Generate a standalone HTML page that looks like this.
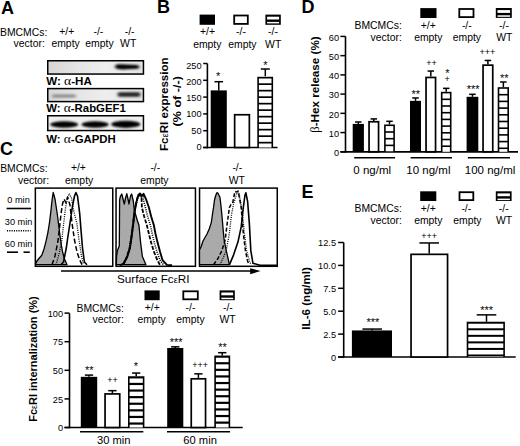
<!DOCTYPE html>
<html><head><meta charset="utf-8"><style>
html,body{margin:0;padding:0;background:#fff;}
svg{display:block;font-family:"Liberation Sans", sans-serif;}
</style></head><body>
<svg width="520" height="446" viewBox="0 0 520 446" font-family='"Liberation Sans", sans-serif' fill="#000">
<rect x="0" y="0" width="520" height="446" fill="#fff"/>
<text x="1" y="13.9" font-size="18" text-anchor="start" font-weight="bold">A</text>
<text x="0" y="35.8" font-size="10.4" text-anchor="start">BMCMCs:</text>
<text x="13.6" y="47" font-size="10.4" text-anchor="start">vector:</text>
<text x="66.8" y="35.4" font-size="10.4" text-anchor="middle">+/+</text>
<text x="98.4" y="35.4" font-size="10.4" text-anchor="middle">-/-</text>
<text x="129.6" y="35.4" font-size="10.4" text-anchor="middle">-/-</text>
<text x="65.6" y="47" font-size="10.4" text-anchor="middle">empty</text>
<text x="99.5" y="47" font-size="10.4" text-anchor="middle">empty</text>
<text x="128.2" y="47" font-size="10.4" text-anchor="middle">WT</text>
<defs>
<linearGradient id="g1" x1="0" x2="1" y1="0" y2="0">
 <stop offset="0" stop-color="#d6d6d6"/><stop offset="0.35" stop-color="#e6e6e6"/><stop offset="0.6" stop-color="#eeeeee"/><stop offset="1" stop-color="#e2e2e2"/>
</linearGradient>
<filter id="bl" x="-30%" y="-80%" width="160%" height="260%"><feGaussianBlur stdDeviation="1.4 1.0"/></filter>
<filter id="bl2" x="-30%" y="-80%" width="160%" height="260%"><feGaussianBlur stdDeviation="1.0 0.8"/></filter>
</defs>
<rect x="47.75" y="60.75" width="95.7" height="13.3" fill="url(#g1)" stroke="#000" stroke-width="1.5"/>
<path d="M115,66.6 C115,63.6 120,64.2 126,64.6 L137,65 C140,65.2 140,68.6 137,68.8 L126,69.2 C120,69.6 115,69.6 115,66.6 Z" fill="#000" filter="url(#bl)"/>
<text x="46.3" y="85" font-size="11" text-anchor="start" font-weight="bold" textLength="45.5" lengthAdjust="spacingAndGlyphs">W: <tspan font-family="Liberation Serif" font-weight="normal" font-size="13">&#945;</tspan>-HA</text>
<rect x="47.75" y="88.6" width="95.7" height="13" fill="url(#g1)" stroke="#000" stroke-width="1.5"/>
<rect x="52" y="94.6" width="24" height="3" rx="1.5" fill="#888" filter="url(#bl)"/>
<rect x="117.5" y="92.2" width="23" height="4.6" rx="2.3" fill="#222" filter="url(#bl)"/>
<text x="46.3" y="112" font-size="11" text-anchor="start" font-weight="bold" textLength="79.5" lengthAdjust="spacingAndGlyphs">W: <tspan font-family="Liberation Serif" font-weight="normal" font-size="13">&#945;</tspan>-RabGEF1</text>
<rect x="47.75" y="115.75" width="95.7" height="14.8" fill="#f0f0f0" stroke="#000" stroke-width="1.5"/>
<ellipse cx="64.2" cy="124.5" rx="14" ry="3.3" fill="#000" filter="url(#bl2)"/>
<ellipse cx="95.1" cy="124.5" rx="13.6" ry="3.3" fill="#000" filter="url(#bl2)"/>
<ellipse cx="125.8" cy="124.3" rx="14.6" ry="3.6" fill="#000" filter="url(#bl2)"/>
<text x="46.3" y="142.8" font-size="11" text-anchor="start" font-weight="bold" textLength="69.5" lengthAdjust="spacingAndGlyphs">W: <tspan font-family="Liberation Serif" font-weight="normal" font-size="13">&#945;</tspan>-GAPDH</text>
<text x="157" y="13.3" font-size="18" text-anchor="start" font-weight="bold">B</text>
<rect x="199.60" y="14.60" width="15.40" height="10.20" fill="#000"/>
<rect x="233.30" y="14.60" width="15.40" height="10.20" fill="#000"/>
<rect x="235.10" y="16.40" width="11.80" height="6.60" fill="#fff"/>
<rect x="265.40" y="14.60" width="15.40" height="10.20" fill="#000"/>
<rect x="267.10" y="16.70" width="12.00" height="2.80" fill="#fff"/>
<rect x="267.10" y="21.90" width="12.00" height="1.50" fill="#fff"/>
<text x="207.5" y="35.3" font-size="10.4" text-anchor="middle">+/+</text>
<text x="241.0" y="35.3" font-size="10.4" text-anchor="middle">-/-</text>
<text x="273.0" y="35.3" font-size="10.4" text-anchor="middle">-/-</text>
<text x="207.3" y="48" font-size="10.4" text-anchor="middle">empty</text>
<text x="242.4" y="48" font-size="10.4" text-anchor="middle">empty</text>
<text x="273.2" y="48" font-size="10.4" text-anchor="middle">WT</text>
<line x1="207.4" y1="63.5" x2="207.4" y2="148.3" stroke="#000" stroke-width="1.6"/>
<line x1="203.2" y1="147.5" x2="277.5" y2="147.5" stroke="#000" stroke-width="1.7"/>
<line x1="203.2" y1="63.5" x2="207.4" y2="63.5" stroke="#000" stroke-width="1.5"/>
<text x="201.5" y="68.89999999999999" font-size="9.2" text-anchor="end">250</text>
<line x1="203.2" y1="80.3" x2="207.4" y2="80.3" stroke="#000" stroke-width="1.5"/>
<text x="201.5" y="84.7" font-size="9.2" text-anchor="end">200</text>
<line x1="203.2" y1="97.1" x2="207.4" y2="97.1" stroke="#000" stroke-width="1.5"/>
<text x="201.5" y="101.3" font-size="9.2" text-anchor="end">150</text>
<line x1="203.2" y1="113.9" x2="207.4" y2="113.9" stroke="#000" stroke-width="1.5"/>
<text x="201.5" y="117.2" font-size="9.2" text-anchor="end">100</text>
<line x1="203.2" y1="130.7" x2="207.4" y2="130.7" stroke="#000" stroke-width="1.5"/>
<text x="201.5" y="133.60000000000002" font-size="9.2" text-anchor="end">50</text>
<line x1="203.2" y1="147.5" x2="207.4" y2="147.5" stroke="#000" stroke-width="1.5"/>
<text x="201.5" y="149.70000000000002" font-size="9.2" text-anchor="end">0</text>
<rect x="210.70" y="90.38" width="16.10" height="57.12" fill="#000"/>
<line x1="218.75" y1="81.7" x2="218.75" y2="90.38" stroke="#000" stroke-width="1.5"/>
<line x1="214.45" y1="81.7" x2="223.05" y2="81.7" stroke="#000" stroke-width="1.5"/>
<text x="218.2" y="80.1" font-size="11" text-anchor="middle">*</text>
<rect x="234.65" y="114.75" width="14.70" height="32.75" fill="#fff" stroke="#000" stroke-width="1.7"/>
<rect x="257.30" y="76.80" width="15.80" height="70.70" fill="#000"/>
<rect x="258.90" y="78.50" width="12.60" height="4.80" fill="#fff"/>
<rect x="258.90" y="85.00" width="12.60" height="4.80" fill="#fff"/>
<rect x="258.90" y="91.50" width="12.60" height="4.80" fill="#fff"/>
<rect x="258.90" y="98.00" width="12.60" height="4.80" fill="#fff"/>
<rect x="258.90" y="104.50" width="12.60" height="4.80" fill="#fff"/>
<rect x="258.90" y="111.00" width="12.60" height="4.80" fill="#fff"/>
<rect x="258.90" y="117.50" width="12.60" height="4.80" fill="#fff"/>
<rect x="258.90" y="124.00" width="12.60" height="4.80" fill="#fff"/>
<rect x="258.90" y="130.50" width="12.60" height="4.80" fill="#fff"/>
<rect x="258.90" y="137.00" width="12.60" height="4.80" fill="#fff"/>
<rect x="258.90" y="143.50" width="12.60" height="4.00" fill="#fff"/>
<line x1="265.3" y1="69" x2="265.3" y2="76.268" stroke="#000" stroke-width="1.5"/>
<line x1="260.8" y1="69" x2="269.8" y2="69" stroke="#000" stroke-width="1.5"/>
<text x="265.4" y="68.7" font-size="11" text-anchor="middle">*</text>
<text transform="translate(168,104.2) rotate(-90)" x="0" y="0" font-size="11" text-anchor="middle" font-weight="bold" textLength="93.6" lengthAdjust="spacingAndGlyphs">Fc<tspan font-size="9" font-weight="normal">&#949;</tspan>RI expression</text>
<text transform="translate(180.5,101.3) rotate(-90)" x="0" y="0" font-size="11" text-anchor="middle" font-weight="bold" textLength="50.2" lengthAdjust="spacingAndGlyphs">(% of -/-)</text>
<text x="301.5" y="12.7" font-size="18" text-anchor="start" font-weight="bold">D</text>
<rect x="420.30" y="8.10" width="16.20" height="9.90" fill="#000"/>
<rect x="458.40" y="8.10" width="16.00" height="9.90" fill="#000"/>
<rect x="460.20" y="9.90" width="12.40" height="6.30" fill="#fff"/>
<rect x="495.80" y="8.00" width="16.00" height="9.90" fill="#000"/>
<rect x="497.50" y="10.10" width="12.60" height="2.80" fill="#fff"/>
<rect x="497.50" y="15.30" width="12.60" height="1.50" fill="#fff"/>
<text x="401.8" y="28.9" font-size="10.4" text-anchor="end">BMCMCs:</text>
<text x="401.8" y="40.6" font-size="10.4" text-anchor="end">vector:</text>
<text x="428.3" y="28.8" font-size="10.4" text-anchor="middle">+/+</text>
<text x="466.8" y="28.8" font-size="10.4" text-anchor="middle">-/-</text>
<text x="504.0" y="28.8" font-size="10.4" text-anchor="middle">-/-</text>
<text x="428.3" y="40.6" font-size="10.4" text-anchor="middle">empty</text>
<text x="466.9" y="40.6" font-size="10.4" text-anchor="middle">empty</text>
<text x="504.3" y="40.6" font-size="10.4" text-anchor="middle">WT</text>
<line x1="345.5" y1="36.4" x2="345.5" y2="152.6" stroke="#000" stroke-width="1.6"/>
<line x1="340.4" y1="151.8" x2="518" y2="151.8" stroke="#000" stroke-width="1.7"/>
<line x1="340.4" y1="36.420000000000016" x2="345.5" y2="36.420000000000016" stroke="#000" stroke-width="1.5"/>
<text x="339" y="40.62000000000002" font-size="9.2" text-anchor="end">60</text>
<line x1="340.4" y1="55.650000000000006" x2="345.5" y2="55.650000000000006" stroke="#000" stroke-width="1.5"/>
<text x="339" y="59.85000000000001" font-size="9.2" text-anchor="end">50</text>
<line x1="340.4" y1="74.88000000000001" x2="345.5" y2="74.88000000000001" stroke="#000" stroke-width="1.5"/>
<text x="339" y="79.08000000000001" font-size="9.2" text-anchor="end">40</text>
<line x1="340.4" y1="94.11000000000001" x2="345.5" y2="94.11000000000001" stroke="#000" stroke-width="1.5"/>
<text x="339" y="98.31000000000002" font-size="9.2" text-anchor="end">30</text>
<line x1="340.4" y1="113.34" x2="345.5" y2="113.34" stroke="#000" stroke-width="1.5"/>
<text x="339" y="117.54" font-size="9.2" text-anchor="end">20</text>
<line x1="340.4" y1="132.57000000000002" x2="345.5" y2="132.57000000000002" stroke="#000" stroke-width="1.5"/>
<text x="339" y="136.77" font-size="9.2" text-anchor="end">10</text>
<line x1="340.4" y1="151.8" x2="345.5" y2="151.8" stroke="#000" stroke-width="1.5"/>
<text x="339" y="156.0" font-size="9.2" text-anchor="end">0</text>
<line x1="358.29999999999995" y1="121.99350000000001" x2="358.29999999999995" y2="123.91650000000001" stroke="#000" stroke-width="1.5"/>
<line x1="355.04999999999995" y1="121.99350000000001" x2="361.54999999999995" y2="121.99350000000001" stroke="#000" stroke-width="1.5"/>
<rect x="352.70" y="123.92" width="11.20" height="27.88" fill="#000"/>
<line x1="373.79999999999995" y1="118.9167" x2="373.79999999999995" y2="120.89739" stroke="#000" stroke-width="1.5"/>
<line x1="370.54999999999995" y1="118.9167" x2="377.04999999999995" y2="118.9167" stroke="#000" stroke-width="1.5"/>
<rect x="369.05" y="121.75" width="9.50" height="30.05" fill="#fff" stroke="#000" stroke-width="1.7"/>
<line x1="389.5" y1="121.30122000000001" x2="389.5" y2="124.49340000000001" stroke="#000" stroke-width="1.5"/>
<line x1="386.25" y1="121.30122000000001" x2="392.75" y2="121.30122000000001" stroke="#000" stroke-width="1.5"/>
<rect x="384.10" y="124.49" width="10.80" height="27.31" fill="#000"/>
<rect x="385.70" y="126.09" width="7.60" height="5.10" fill="#fff"/>
<rect x="385.70" y="132.79" width="7.60" height="5.10" fill="#fff"/>
<rect x="385.70" y="139.49" width="7.60" height="5.10" fill="#fff"/>
<rect x="385.70" y="146.19" width="7.60" height="5.10" fill="#fff"/>
<line x1="415.5" y1="97.95600000000002" x2="415.5" y2="100.84050000000002" stroke="#000" stroke-width="1.5"/>
<line x1="412.25" y1="97.95600000000002" x2="418.75" y2="97.95600000000002" stroke="#000" stroke-width="1.5"/>
<rect x="410.00" y="100.84" width="11.00" height="50.96" fill="#000"/>
<line x1="430.79999999999995" y1="71.034" x2="430.79999999999995" y2="76.61070000000001" stroke="#000" stroke-width="1.5"/>
<line x1="427.54999999999995" y1="71.034" x2="434.04999999999995" y2="71.034" stroke="#000" stroke-width="1.5"/>
<rect x="426.05" y="77.46" width="9.50" height="74.34" fill="#fff" stroke="#000" stroke-width="1.7"/>
<line x1="446.2" y1="88.34100000000001" x2="446.2" y2="91.8024" stroke="#000" stroke-width="1.5"/>
<line x1="442.95" y1="88.34100000000001" x2="449.45" y2="88.34100000000001" stroke="#000" stroke-width="1.5"/>
<rect x="440.90" y="91.80" width="10.60" height="60.00" fill="#000"/>
<rect x="442.50" y="93.40" width="7.40" height="5.10" fill="#fff"/>
<rect x="442.50" y="100.10" width="7.40" height="5.10" fill="#fff"/>
<rect x="442.50" y="106.80" width="7.40" height="5.10" fill="#fff"/>
<rect x="442.50" y="113.50" width="7.40" height="5.10" fill="#fff"/>
<rect x="442.50" y="120.20" width="7.40" height="5.10" fill="#fff"/>
<rect x="442.50" y="126.90" width="7.40" height="5.10" fill="#fff"/>
<rect x="442.50" y="133.60" width="7.40" height="5.10" fill="#fff"/>
<rect x="442.50" y="140.30" width="7.40" height="5.10" fill="#fff"/>
<rect x="442.50" y="147.00" width="7.40" height="4.80" fill="#fff"/>
<line x1="472.45000000000005" y1="94.3023" x2="472.45000000000005" y2="96.8022" stroke="#000" stroke-width="1.5"/>
<line x1="469.20000000000005" y1="94.3023" x2="475.70000000000005" y2="94.3023" stroke="#000" stroke-width="1.5"/>
<rect x="466.60" y="96.80" width="11.70" height="55.00" fill="#000"/>
<line x1="487.9" y1="60.45750000000001" x2="487.9" y2="64.30350000000001" stroke="#000" stroke-width="1.5"/>
<line x1="484.65" y1="60.45750000000001" x2="491.15" y2="60.45750000000001" stroke="#000" stroke-width="1.5"/>
<rect x="483.05" y="65.15" width="9.70" height="86.65" fill="#fff" stroke="#000" stroke-width="1.7"/>
<line x1="503.35" y1="81.99510000000002" x2="503.35" y2="87.1872" stroke="#000" stroke-width="1.5"/>
<line x1="500.1" y1="81.99510000000002" x2="506.6" y2="81.99510000000002" stroke="#000" stroke-width="1.5"/>
<rect x="497.70" y="87.19" width="11.30" height="64.61" fill="#000"/>
<rect x="499.30" y="88.79" width="8.10" height="5.10" fill="#fff"/>
<rect x="499.30" y="95.49" width="8.10" height="5.10" fill="#fff"/>
<rect x="499.30" y="102.19" width="8.10" height="5.10" fill="#fff"/>
<rect x="499.30" y="108.89" width="8.10" height="5.10" fill="#fff"/>
<rect x="499.30" y="115.59" width="8.10" height="5.10" fill="#fff"/>
<rect x="499.30" y="122.29" width="8.10" height="5.10" fill="#fff"/>
<rect x="499.30" y="128.99" width="8.10" height="5.10" fill="#fff"/>
<rect x="499.30" y="135.69" width="8.10" height="5.10" fill="#fff"/>
<rect x="499.30" y="142.39" width="8.10" height="5.10" fill="#fff"/>
<rect x="499.30" y="149.09" width="8.10" height="2.71" fill="#fff"/>
<text x="415.8" y="98.1" font-size="11" text-anchor="middle">**</text>
<text x="431.6" y="66" font-size="9" text-anchor="middle">++</text>
<text x="447.3" y="77.1" font-size="11" text-anchor="middle">*</text>
<text x="447.2" y="82" font-size="9" text-anchor="middle">+</text>
<text x="473.1" y="92.9" font-size="11" text-anchor="middle">***</text>
<text x="487.5" y="54.8" font-size="9" text-anchor="middle">+++</text>
<text x="504.3" y="82.2" font-size="11" text-anchor="middle">**</text>
<line x1="354.2" y1="157.7" x2="395.1" y2="157.7" stroke="#000" stroke-width="1.5"/>
<line x1="410.6" y1="157.7" x2="452" y2="157.7" stroke="#000" stroke-width="1.5"/>
<line x1="467.8" y1="157.7" x2="510" y2="157.7" stroke="#000" stroke-width="1.5"/>
<text x="372.2" y="173.7" font-size="11.5" text-anchor="middle">0 ng/ml</text>
<text x="428.4" y="173.7" font-size="11.5" text-anchor="middle">10 ng/ml</text>
<text x="490.1" y="173.7" font-size="11.5" text-anchor="middle">100 ng/ml</text>
<text transform="translate(319,84.6) rotate(-90)" x="0" y="0" font-size="11" text-anchor="middle" font-weight="bold" textLength="96.5" lengthAdjust="spacingAndGlyphs"><tspan font-family="Liberation Serif" font-weight="normal" font-size="12">&#946;</tspan>-Hex release (%)</text>
<text x="0" y="155.3" font-size="18" text-anchor="start" font-weight="bold">C</text>
<text x="0.2" y="171.5" font-size="10.4" text-anchor="start">BMCMCs:</text>
<text x="18" y="183.6" font-size="10.4" text-anchor="start">vector:</text>
<text x="78.4" y="171.3" font-size="10.4" text-anchor="middle">+/+</text>
<text x="79.1" y="183.6" font-size="10.4" text-anchor="middle">empty</text>
<text x="155.3" y="171.3" font-size="10.4" text-anchor="middle">-/-</text>
<text x="154.4" y="183.6" font-size="10.4" text-anchor="middle">empty</text>
<text x="237.3" y="171.3" font-size="10.4" text-anchor="middle">-/-</text>
<text x="236.9" y="183.6" font-size="10.4" text-anchor="middle">WT</text>
<rect x="35.35" y="188.1" width="77.4" height="78.2" fill="#fff" stroke="#000" stroke-width="1.5"/>
<rect x="116.05" y="188.1" width="79.39999999999999" height="78.2" fill="#fff" stroke="#000" stroke-width="1.5"/>
<rect x="199.55" y="188.1" width="77.69999999999999" height="78.2" fill="#fff" stroke="#000" stroke-width="1.5"/>
<path d="M35.5,264.7 L36.3,262 L38.5,259 L41.8,255.3 L44,249 L46,241.3 L48,232 L49.6,221.8 L51,210 L52.2,199 L53.2,192.5 L55,199 L57.2,213.5 L58.8,226 L60,235.8 L61.5,246 L62.7,252.5 L64.5,259 L67,264.7 Z" fill="#aaaaaa" stroke="#000" stroke-width="1.3" stroke-linejoin="round"/>
<path d="M52,264.7 L55,256 L57.8,242 L59.5,228 L61,214 L62.5,204 L64,199 L66,203 L67.5,197 L70,205 L72,223 L74.5,240 L77,252 L79.7,260 L82,264.7" fill="none" stroke="#000" stroke-width="1.5" stroke-linejoin="round" stroke-dasharray="5 2.5"/>
<path d="M56,264.7 L59,254 L61.6,242 L63.5,225 L65.5,208 L67.5,198 L69.2,193.6 L71.5,198 L73.5,210 L76.8,223 L79,240 L81.5,256 L83.5,264.7" fill="none" stroke="#000" stroke-width="1.3" stroke-linejoin="round" stroke-dasharray="1 1.2"/>
<path d="M61,264.7 L63.5,262 L66.3,248 L68,236 L70,223 L72.5,206 L74.5,196 L75.9,192.6 L77.5,196 L79.7,213.6 L81,230 L82.5,248 L84.4,262 L87,264.7" fill="none" stroke="#000" stroke-width="1.6" stroke-linejoin="round"/>
<path d="M116.3,264.7 L116.6,256 L117.6,250 L119.3,246 L119.5,220 L119.6,200 L120.5,196 L121.8,194 L123,199 L124.3,204 L125.5,198 L126.8,193.6 L128,199 L129,204 L130.5,196 L131.6,194 L133.3,201 L134.3,210 L136,216 L137.5,221 L138.9,225 L139.8,234 L140.6,242.6 L142.4,256.6 L145.9,264.7 Z" fill="#aaaaaa" stroke="#000" stroke-width="1.3" stroke-linejoin="round"/>
<path d="M123,264.7 L126.5,258 L129.5,249 L131.5,237 L133.2,223 L134.3,213 L136,204 L137.8,197 L139.5,194.5 L141.5,196.5 L141.9,207.5 L144.1,216.3 L146.8,225 L148.9,233.8 L151.1,242.6 L153.8,251.3 L157.3,260.1 L159.9,264.7" fill="none" stroke="#000" stroke-width="1.8" stroke-linejoin="round" stroke-dasharray="4 1.5"/>
<path d="M122.5,264.7 L126,258.5 L129,250 L131,238 L132.8,224 L134,214 L135.8,205 L137.5,198 L139.3,195 L141.3,197 L143,195 L143.5,200 L145.4,207.5 L147.6,216.3 L150.3,225 L152.2,233.8 L154.3,242.6 L156.8,251.3 L159.9,260.1 L163.4,264.7" fill="none" stroke="#000" stroke-width="1.6" stroke-linejoin="round" stroke-dasharray="1 1.2"/>
<path d="M120,265.3 L123.9,263.3 L127.5,256.2 L130.1,247.2 L131.9,234.6 L133.7,220.3 L134.6,211.3 L136.4,202.3 L138.2,195.2 L140,193.4 L141.8,196 L143.6,193.8 L145.9,198.8 L148.9,207.5 L151.1,216.3 L153.8,225 L155.5,233.8 L157.6,242.6 L159.9,251.3 L162.5,260.1 L166.9,264.9 L172,265.3" fill="none" stroke="#000" stroke-width="1.9" stroke-linejoin="round"/>
<path d="M199.5,264.7 L199.5,250 L201,247 L203,241 L205,237.5 L207,234 L209.2,229 L211.3,222.6 L212.5,214 L213.5,207.7 L214.5,200 L215.6,196 L216.7,193 L217.7,192.8 L218.8,195 L219.9,197 L221,206 L222,216.2 L223,228 L224.1,239.7 L226.2,250.4 L228,258 L229.4,264.7 Z" fill="#aaaaaa" stroke="#000" stroke-width="1.3" stroke-linejoin="round"/>
<path d="M213.5,264.7 L217.7,259 L222,250.4 L225.2,239.7 L227.3,222.6 L229.4,207.7 L231,204.5 L232.6,203.4 L234,196 L235,191.5 L236.5,192 L238,191 L239.5,198 L241.2,207.7 L243.3,233.3 L245.4,250.4 L247.6,261 L249,264.7" fill="none" stroke="#000" stroke-width="1.5" stroke-linejoin="round" stroke-dasharray="4 2"/>
<path d="M220,264.7 L223,258 L226.2,250.4 L229.4,233.3 L231.6,214 L233.7,203.4 L236.9,192.8 L239,192.8 L242.3,212 L244.4,233.3 L246.5,250.4 L249.7,262 L251.4,264.7" fill="none" stroke="#000" stroke-width="1.3" stroke-linejoin="round" stroke-dasharray="1 1.2"/>
<path d="M229.4,264.9 L233.7,254.6 L238,241.8 L241.2,226.9 L243.3,207.7 L245,195 L245.9,192.8 L247.6,201.3 L249.3,222.6 L250.8,250.4 L252.9,263.2 L260,265.3 L277,265.3" fill="none" stroke="#000" stroke-width="1.6" stroke-linejoin="round"/>
<text x="7.3" y="202.9" font-size="9.2" text-anchor="start">0 min</text>
<line x1="6.6" y1="208.5" x2="31.1" y2="208.5" stroke="#000" stroke-width="1.6"/>
<text x="4.8" y="225.3" font-size="9.2" text-anchor="start">30 min</text>
<line x1="7" y1="230.8" x2="30.6" y2="230.8" stroke="#000" stroke-width="1.4" stroke-dasharray="1.1 1.2"/>
<text x="4.8" y="246.5" font-size="9.2" text-anchor="start">60 min</text>
<line x1="7" y1="252.2" x2="18" y2="252.2" stroke="#000" stroke-width="1.6"/>
<line x1="23.5" y1="252.2" x2="29.8" y2="252.2" stroke="#000" stroke-width="1.6"/>
<line x1="61" y1="271" x2="252" y2="271" stroke="#000" stroke-width="1.5"/>
<path d="M250.2,268.3 L260.6,271 L250.2,274.2 Z" fill="#000"/>
<text x="117" y="283" font-size="11.5" text-anchor="start" textLength="72.5" lengthAdjust="spacingAndGlyphs">Surface Fc<tspan font-size="9">&#949;</tspan>RI</text>
<rect x="144.50" y="290.40" width="15.20" height="9.80" fill="#000"/>
<rect x="182.40" y="290.40" width="16.30" height="9.80" fill="#000"/>
<rect x="184.20" y="292.20" width="12.70" height="6.20" fill="#fff"/>
<rect x="219.60" y="290.40" width="15.20" height="9.80" fill="#000"/>
<rect x="221.30" y="292.50" width="11.80" height="2.80" fill="#fff"/>
<rect x="221.30" y="297.70" width="11.80" height="1.50" fill="#fff"/>
<text x="123.8" y="311.5" font-size="10.4" text-anchor="end">BMCMCs:</text>
<text x="123.8" y="322.7" font-size="10.4" text-anchor="end">vector:</text>
<text x="152.2" y="311.4" font-size="10.4" text-anchor="middle">+/+</text>
<text x="190.5" y="311.4" font-size="10.4" text-anchor="middle">-/-</text>
<text x="227.9" y="311.4" font-size="10.4" text-anchor="middle">-/-</text>
<text x="151.6" y="322.8" font-size="10.4" text-anchor="middle">empty</text>
<text x="190.5" y="322.8" font-size="10.4" text-anchor="middle">empty</text>
<text x="227.5" y="322.8" font-size="10.4" text-anchor="middle">WT</text>
<line x1="69.5" y1="313.3" x2="69.5" y2="428.3" stroke="#000" stroke-width="1.6"/>
<line x1="64.5" y1="427.5" x2="242.7" y2="427.5" stroke="#000" stroke-width="1.7"/>
<line x1="64.5" y1="313.1" x2="69.5" y2="313.1" stroke="#000" stroke-width="1.5"/>
<text x="63" y="316.8" font-size="9.2" text-anchor="end">100</text>
<line x1="64.5" y1="341.7" x2="69.5" y2="341.7" stroke="#000" stroke-width="1.5"/>
<text x="63" y="345.4" font-size="9.2" text-anchor="end">75</text>
<line x1="64.5" y1="370.3" x2="69.5" y2="370.3" stroke="#000" stroke-width="1.5"/>
<text x="63" y="374.0" font-size="9.2" text-anchor="end">50</text>
<line x1="64.5" y1="398.9" x2="69.5" y2="398.9" stroke="#000" stroke-width="1.5"/>
<text x="63" y="402.59999999999997" font-size="9.2" text-anchor="end">25</text>
<line x1="64.5" y1="427.5" x2="69.5" y2="427.5" stroke="#000" stroke-width="1.5"/>
<text x="63" y="431.2" font-size="9.2" text-anchor="end">0</text>
<line x1="89.0" y1="375.1048" x2="89.0" y2="376.8208" stroke="#000" stroke-width="1.5"/>
<line x1="84.85" y1="375.1048" x2="93.15" y2="375.1048" stroke="#000" stroke-width="1.5"/>
<rect x="80.80" y="376.82" width="16.40" height="50.68" fill="#000"/>
<line x1="112.4" y1="390.66319999999996" x2="112.4" y2="393.0656" stroke="#000" stroke-width="1.5"/>
<line x1="108.25" y1="390.66319999999996" x2="116.55000000000001" y2="390.66319999999996" stroke="#000" stroke-width="1.5"/>
<rect x="105.05" y="393.92" width="14.70" height="33.58" fill="#fff" stroke="#000" stroke-width="1.7"/>
<line x1="136.2" y1="373.0456" x2="136.2" y2="376.2488" stroke="#000" stroke-width="1.5"/>
<line x1="132.04999999999998" y1="373.0456" x2="140.35" y2="373.0456" stroke="#000" stroke-width="1.5"/>
<rect x="128.00" y="376.25" width="16.40" height="51.25" fill="#000"/>
<rect x="129.60" y="378.45" width="13.20" height="4.40" fill="#fff"/>
<rect x="129.60" y="385.05" width="13.20" height="4.40" fill="#fff"/>
<rect x="129.60" y="391.65" width="13.20" height="4.40" fill="#fff"/>
<rect x="129.60" y="398.25" width="13.20" height="4.40" fill="#fff"/>
<rect x="129.60" y="404.85" width="13.20" height="4.40" fill="#fff"/>
<rect x="129.60" y="411.45" width="13.20" height="4.40" fill="#fff"/>
<rect x="129.60" y="418.05" width="13.20" height="4.40" fill="#fff"/>
<rect x="129.60" y="424.65" width="13.20" height="2.85" fill="#fff"/>
<line x1="175.25" y1="346.84799999999996" x2="175.25" y2="347.99199999999996" stroke="#000" stroke-width="1.5"/>
<line x1="171.1" y1="346.84799999999996" x2="179.4" y2="346.84799999999996" stroke="#000" stroke-width="1.5"/>
<rect x="167.20" y="347.99" width="16.10" height="79.51" fill="#000"/>
<line x1="198.4" y1="373.8464" x2="198.4" y2="377.96479999999997" stroke="#000" stroke-width="1.5"/>
<line x1="194.25" y1="373.8464" x2="202.55" y2="373.8464" stroke="#000" stroke-width="1.5"/>
<rect x="191.25" y="378.81" width="14.30" height="48.69" fill="#fff" stroke="#000" stroke-width="1.7"/>
<line x1="222.25" y1="352.6824" x2="222.25" y2="355.5424" stroke="#000" stroke-width="1.5"/>
<line x1="218.1" y1="352.6824" x2="226.4" y2="352.6824" stroke="#000" stroke-width="1.5"/>
<rect x="214.30" y="355.54" width="15.90" height="71.96" fill="#000"/>
<rect x="215.90" y="357.74" width="12.70" height="4.40" fill="#fff"/>
<rect x="215.90" y="364.34" width="12.70" height="4.40" fill="#fff"/>
<rect x="215.90" y="370.94" width="12.70" height="4.40" fill="#fff"/>
<rect x="215.90" y="377.54" width="12.70" height="4.40" fill="#fff"/>
<rect x="215.90" y="384.14" width="12.70" height="4.40" fill="#fff"/>
<rect x="215.90" y="390.74" width="12.70" height="4.40" fill="#fff"/>
<rect x="215.90" y="397.34" width="12.70" height="4.40" fill="#fff"/>
<rect x="215.90" y="403.94" width="12.70" height="4.40" fill="#fff"/>
<rect x="215.90" y="410.54" width="12.70" height="4.40" fill="#fff"/>
<rect x="215.90" y="417.14" width="12.70" height="4.40" fill="#fff"/>
<rect x="215.90" y="423.74" width="12.70" height="3.76" fill="#fff"/>
<text x="89.3" y="374.4" font-size="11" text-anchor="middle">**</text>
<text x="112.6" y="383.4" font-size="9" text-anchor="middle">++</text>
<text x="135.8" y="370.3" font-size="11" text-anchor="middle">*</text>
<text x="176.2" y="346.0" font-size="11" text-anchor="middle">***</text>
<text x="200.1" y="368" font-size="9" text-anchor="middle">+++</text>
<text x="222.6" y="351.4" font-size="11" text-anchor="middle">**</text>
<line x1="80" y1="431.8" x2="143.3" y2="431.8" stroke="#000" stroke-width="1.5"/>
<line x1="167" y1="431.8" x2="230" y2="431.8" stroke="#000" stroke-width="1.5"/>
<text x="113.8" y="443.9" font-size="11.2" text-anchor="middle">30 min</text>
<text x="200.1" y="443.9" font-size="11.2" text-anchor="middle">60 min</text>
<text transform="translate(37.3,359) rotate(-90)" x="0" y="0" font-size="11.5" text-anchor="middle" font-weight="bold" textLength="125.5" lengthAdjust="spacingAndGlyphs">Fc<tspan font-size="9" font-weight="normal">&#949;</tspan>RI internalization (%)</text>
<text x="301.5" y="197.9" font-size="18" text-anchor="start" font-weight="bold">E</text>
<rect x="420.20" y="191.30" width="16.10" height="9.70" fill="#000"/>
<rect x="458.60" y="191.30" width="15.60" height="9.70" fill="#000"/>
<rect x="460.40" y="193.10" width="12.00" height="6.10" fill="#fff"/>
<rect x="495.80" y="191.30" width="15.80" height="9.70" fill="#000"/>
<rect x="497.50" y="193.40" width="12.40" height="2.80" fill="#fff"/>
<rect x="497.50" y="198.60" width="12.40" height="1.50" fill="#fff"/>
<text x="401.8" y="211.9" font-size="10.4" text-anchor="end">BMCMCs:</text>
<text x="401.8" y="223.6" font-size="10.4" text-anchor="end">vector:</text>
<text x="428.3" y="211.8" font-size="10.4" text-anchor="middle">+/+</text>
<text x="466.3" y="211.8" font-size="10.4" text-anchor="middle">-/-</text>
<text x="503.7" y="211.8" font-size="10.4" text-anchor="middle">-/-</text>
<text x="428.3" y="223.6" font-size="10.4" text-anchor="middle">empty</text>
<text x="467.4" y="223.6" font-size="10.4" text-anchor="middle">empty</text>
<text x="504.0" y="223.6" font-size="10.4" text-anchor="middle">WT</text>
<line x1="343.7" y1="242.5" x2="343.7" y2="357.8" stroke="#000" stroke-width="1.6"/>
<line x1="338.1" y1="357.0" x2="515.7" y2="357.0" stroke="#000" stroke-width="1.7"/>
<line x1="338.1" y1="242.5" x2="343.7" y2="242.5" stroke="#000" stroke-width="1.5"/>
<text x="336" y="246.1" font-size="9.2" text-anchor="end">12.5</text>
<line x1="338.1" y1="265.4" x2="343.7" y2="265.4" stroke="#000" stroke-width="1.5"/>
<text x="336" y="269.0" font-size="9.2" text-anchor="end">10.0</text>
<line x1="338.1" y1="288.3" x2="343.7" y2="288.3" stroke="#000" stroke-width="1.5"/>
<text x="336" y="291.90000000000003" font-size="9.2" text-anchor="end">7.5</text>
<line x1="338.1" y1="311.2" x2="343.7" y2="311.2" stroke="#000" stroke-width="1.5"/>
<text x="336" y="314.8" font-size="9.2" text-anchor="end">5.0</text>
<line x1="338.1" y1="334.1" x2="343.7" y2="334.1" stroke="#000" stroke-width="1.5"/>
<text x="336" y="337.70000000000005" font-size="9.2" text-anchor="end">2.5</text>
<line x1="338.1" y1="357.0" x2="343.7" y2="357.0" stroke="#000" stroke-width="1.5"/>
<text x="336" y="360.6" font-size="9.2" text-anchor="end">0</text>
<line x1="372.2" y1="329.062" x2="372.2" y2="330.436" stroke="#000" stroke-width="1.5"/>
<line x1="362.4" y1="329.062" x2="382.0" y2="329.062" stroke="#000" stroke-width="1.5"/>
<rect x="351.90" y="330.44" width="40.10" height="26.56" fill="#000"/>
<line x1="429.2" y1="242.958" x2="429.2" y2="253.492" stroke="#000" stroke-width="1.5"/>
<line x1="419.4" y1="242.958" x2="439.0" y2="242.958" stroke="#000" stroke-width="1.5"/>
<rect x="411.05" y="254.34" width="36.50" height="102.66" fill="#fff" stroke="#000" stroke-width="1.7"/>
<line x1="486.5" y1="314.86400000000003" x2="486.5" y2="321.734" stroke="#000" stroke-width="1.5"/>
<line x1="476.7" y1="314.86400000000003" x2="496.3" y2="314.86400000000003" stroke="#000" stroke-width="1.5"/>
<rect x="466.70" y="321.73" width="38.20" height="35.27" fill="#000"/>
<rect x="468.30" y="323.73" width="35.00" height="4.55" fill="#fff"/>
<rect x="468.30" y="330.28" width="35.00" height="4.55" fill="#fff"/>
<rect x="468.30" y="336.83" width="35.00" height="4.55" fill="#fff"/>
<rect x="468.30" y="343.38" width="35.00" height="4.55" fill="#fff"/>
<rect x="468.30" y="349.93" width="35.00" height="4.55" fill="#fff"/>
<rect x="468.30" y="356.48" width="35.00" height="0.52" fill="#fff"/>
<text x="372.9" y="326.4" font-size="11" text-anchor="middle">***</text>
<text x="429.2" y="238.5" font-size="9" text-anchor="middle">+++</text>
<text x="486.6" y="314.0" font-size="11" text-anchor="middle">***</text>
<text transform="translate(310.4,298.4) rotate(-90)" x="0" y="0" font-size="11" text-anchor="middle" font-weight="bold" textLength="62.5" lengthAdjust="spacingAndGlyphs">IL-6 (ng/ml)</text>
</svg>
</body></html>
